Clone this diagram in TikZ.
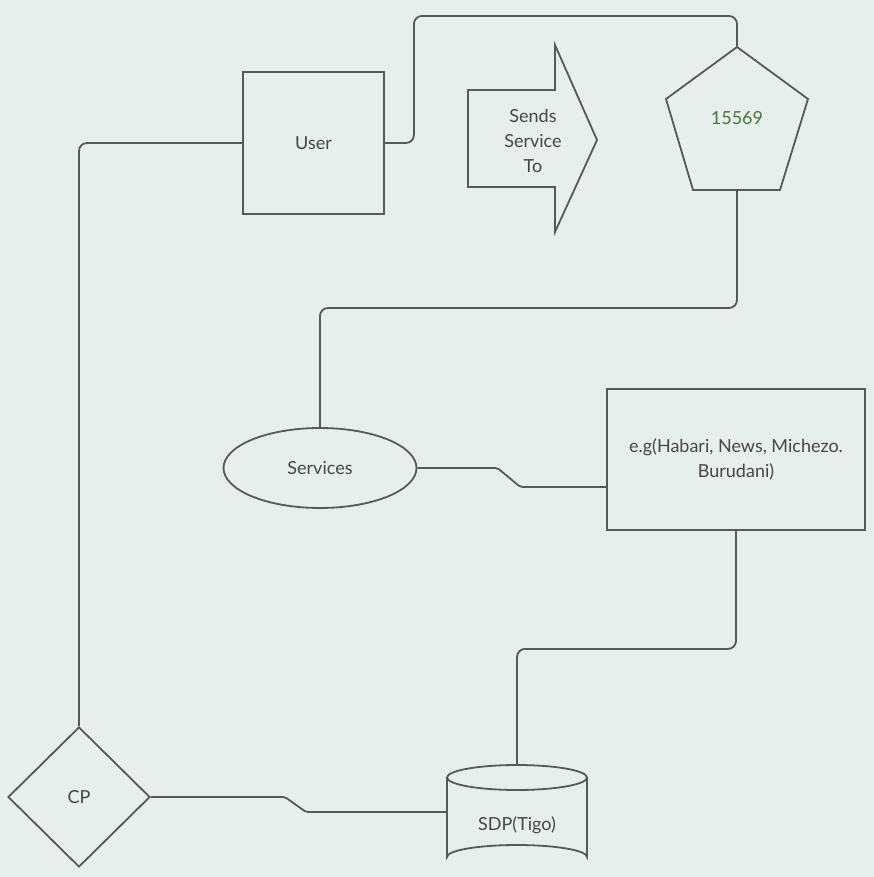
\documentclass[tikz,border=0pt]{standalone}
\usepackage{fontspec}
\setmainfont{Lato}
\usetikzlibrary{shapes.geometric}
\definecolor{bgc}{RGB}{231,239,237}
\definecolor{linec}{RGB}{85,89,89}
\definecolor{textc}{RGB}{70,70,70}
\definecolor{numc}{RGB}{70,120,58}
\tikzset{
  shp/.style={draw=linec, line width=1.8pt, text=textc, font=\fontsize{18}{25}\selectfont, align=center},
  conn/.style={draw=linec, line width=1.8pt, rounded corners=8pt},
  lbl/.style={text=textc, font=\fontsize{18}{25}\selectfont, align=center}
}
\begin{document}
\begin{tikzpicture}[x=1pt,y=-1pt]
\fill[bgc] (0,0) rectangle (874,877);
\useasboundingbox (0,0) rectangle (874,877);

% User box
\node[shp, rectangle, minimum width=141pt, minimum height=142pt] (user) at (313.5,143) {User};

% Arrow
\draw[draw=linec, line width=1.8pt, line join=miter]
  (468,90) -- (555,90) -- (555,45) -- (597,140) -- (555,232) -- (555,187) -- (468,187) -- cycle;
\node[lbl] (sends) at (533,141) {Sends\\Service\\To};

% Pentagon
\draw[draw=linec, line width=1.8pt, line join=miter]
  (737,47) -- (808,99) -- (780,190) -- (693,190) -- (666,99) -- cycle;
\coordinate (pentop) at (737,47);
\coordinate (penbot) at (737,190);
\node[lbl, text=numc] (pen) at (737,118) {15569};

% Services ellipse
\node[shp, ellipse, minimum width=193pt, minimum height=80pt, inner sep=0pt] (services) at (320,468) {Services};

% Example box
\node[shp, rectangle, minimum width=258pt, minimum height=141pt] (eg) at (736,459.5) {e.g(Habari, News, Michezo.\\Burudani)};

% CP diamond
\node[shp, diamond, minimum width=142pt, minimum height=140pt, inner sep=0pt] (cp) at (79,797) {CP};

% SDP cylinder
\draw[draw=linec, line width=1.8pt]
  (447,777.5) -- (447,857) arc[start angle=180, end angle=360, x radius=70, y radius=12]
  -- (587,777.5);
\draw[draw=linec, line width=1.8pt] (517,777.5) ellipse[x radius=70, y radius=12.5];
\coordinate (cyltop) at (517,765);
\coordinate (cylleft) at (447,812);
\node[lbl] (sdp) at (517,825) {SDP(Tigo)};

% Connectors
\draw[conn] (user.west) -| (cp.north);
\draw[conn] (user.east) -- ++(29,0) |- (pentop |- 0,16) -- (pentop);
\draw[conn] (penbot) -- ++(0,118) -| (services.north);
\draw[conn, rounded corners=2pt] (services.east) -- ++(80,0) -- ++(23,19) -- ([yshift=-27.5pt]eg.west);
\draw[conn] (eg.south) -- ++(0,118) -| (cyltop);
\draw[conn, rounded corners=2pt] (cp.east) -- (285,797) -- (306,812) -- (cylleft);
\end{tikzpicture}
\end{document}
